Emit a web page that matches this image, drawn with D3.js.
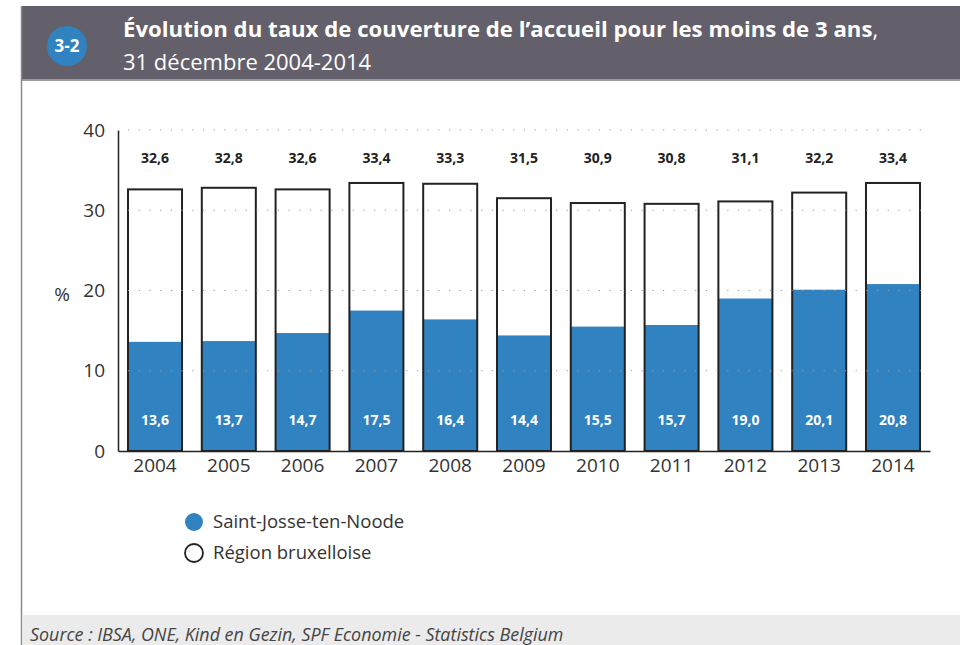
<!DOCTYPE html>
<html>
<head>
<meta charset="utf-8">
<script src="https://cdn.jsdelivr.net/npm/d3@7"></script>
<style>
  body { margin: 0; background: #fff; }
  text { font-family: "Open Sans", "Noto Sans", sans-serif; }
</style>
</head>
<body>
<div id="chart"></div>
<script>
var years = ["2004", "2005", "2006", "2007", "2008", "2009", "2010", "2011", "2012", "2013", "2014"];
var region = [32.6, 32.8, 32.6, 33.4, 33.3, 31.5, 30.9, 30.8, 31.1, 32.2, 33.4];
var saintJosse = [13.6, 13.7, 14.7, 17.5, 16.4, 14.4, 15.5, 15.7, 19.0, 20.1, 20.8];
var yTicks = [0, 10, 20, 30, 40];

var width = 960;
var height = 645;
var blue = "#3182c0";
var fmt = function (v) { return d3.format(".1f")(v).replace(".", ","); };

var svg = d3.select("#chart").append("svg")
  .attr("width", width)
  .attr("height", height);

// header band
svg.append("rect").attr("x", 22).attr("y", 6).attr("width", width - 22).attr("height", 75).attr("fill", "#63606b");
svg.append("rect").attr("x", 22).attr("y", 79).attr("width", width - 22).attr("height", 2).attr("fill", "#9a98a0");
svg.append("line").attr("x1", 21.5).attr("x2", 21.5).attr("y1", 6).attr("y2", height)
  .attr("stroke", "#8a8a90").attr("stroke-width", 1.5);

svg.append("circle").attr("cx", 67).attr("cy", 46).attr("r", 20).attr("fill", blue);
svg.append("text").attr("x", 67).attr("y", 52).attr("text-anchor", "middle")
  .attr("fill", "#fff").attr("font-weight", "bold").attr("font-size", 17).text("3-2");

var title = svg.append("text").attr("x", 123).attr("y", 37).attr("fill", "#fff").attr("font-size", 22.2);
title.append("tspan").attr("font-weight", "bold").text("Évolution du taux de couverture de l’accueil pour les moins de 3 ans");
title.append("tspan").text(",");
svg.append("text").attr("x", 123).attr("y", 70).attr("fill", "#fff").attr("font-size", 22)
  .text("31 décembre 2004-2014");

// footer band
svg.append("rect").attr("x", 22).attr("y", 615).attr("width", width - 22).attr("height", 30).attr("fill", "#ebebeb");
svg.append("text").attr("x", 30).attr("y", 641).attr("fill", "#444").attr("font-style", "italic")
  .attr("font-size", 17.9).text("Source : IBSA, ONE, Kind en Gezin, SPF Economie - Statistics Belgium");

// scales
var x = d3.scaleBand().domain(years).range([118, 930]).paddingInner(0.268).paddingOuter(0.1355);
var y = d3.scaleLinear().domain([0, 40]).range([451, 130]);

// bars
var g = svg.append("g");
g.selectAll(".tot").data(years).enter().append("rect")
  .attr("x", function (d) { return x(d); })
  .attr("width", x.bandwidth())
  .attr("y", function (d, i) { return y(region[i]); })
  .attr("height", function (d, i) { return y(0) - y(region[i]); })
  .attr("fill", "#fff");
g.selectAll(".sj").data(years).enter().append("rect")
  .attr("x", function (d) { return x(d); })
  .attr("width", x.bandwidth())
  .attr("y", function (d, i) { return y(saintJosse[i]); })
  .attr("height", function (d, i) { return y(0) - y(saintJosse[i]); })
  .attr("fill", blue);
g.selectAll(".outline").data(years).enter().append("rect")
  .attr("x", function (d) { return x(d); })
  .attr("width", x.bandwidth())
  .attr("y", function (d, i) { return y(region[i]); })
  .attr("height", function (d, i) { return y(0) - y(region[i]); })
  .attr("fill", "none").attr("stroke", "#222").attr("stroke-width", 2);

// dotted grid
svg.selectAll(".grid").data(yTicks.slice(1)).enter().append("line")
  .attr("x1", 128).attr("x2", 930)
  .attr("y1", function (d) { return y(d); }).attr("y2", function (d) { return y(d); })
  .attr("stroke", "#999").attr("stroke-width", 1.2).attr("stroke-dasharray", "1.2,9.5");

// axes
var yAxis = svg.append("g").attr("transform", "translate(118,0)")
  .call(d3.axisLeft(y).tickValues(yTicks).tickSize(0).tickPadding(13));
yAxis.select(".domain").attr("stroke", "#222").attr("stroke-width", 1.5);
yAxis.selectAll("text").attr("font-size", 19).attr("fill", "#333")
  .style("font-family", "'Open Sans', sans-serif");

var xAxis = svg.append("g").attr("transform", "translate(0," + y(0) + ")")
  .call(d3.axisBottom(x).tickSize(0).tickPadding(8));
xAxis.select(".domain").attr("stroke", "#222").attr("stroke-width", 1.5);
xAxis.selectAll("text").attr("font-size", 19).attr("fill", "#333")
  .style("font-family", "'Open Sans', sans-serif");

svg.append("text").attr("x", 62).attr("y", 301).attr("text-anchor", "middle")
  .attr("font-size", 19).attr("fill", "#333").text("%");

// value labels
svg.selectAll(".lt").data(years).enter().append("text")
  .attr("x", function (d) { return x(d) + x.bandwidth() / 2; })
  .attr("y", 163).attr("text-anchor", "middle")
  .attr("font-size", 14).attr("font-weight", "bold").attr("fill", "#222")
  .text(function (d, i) { return fmt(region[i]); });
svg.selectAll(".lb").data(years).enter().append("text")
  .attr("x", function (d) { return x(d) + x.bandwidth() / 2; })
  .attr("y", 425).attr("text-anchor", "middle")
  .attr("font-size", 14).attr("font-weight", "bold").attr("fill", "#fff")
  .text(function (d, i) { return fmt(saintJosse[i]); });

// legend
var legend = [
  { name: "Saint-Josse-ten-Noode", fill: blue, stroke: "none" },
  { name: "Région bruxelloise", fill: "#fff", stroke: "#222" }
];
var lg = svg.selectAll(".leg").data(legend).enter().append("g")
  .attr("transform", function (d, i) { return "translate(194," + (522 + i * 31) + ")"; });
lg.append("circle").attr("r", 9).attr("fill", function (d) { return d.fill; })
  .attr("stroke", function (d) { return d.stroke; }).attr("stroke-width", 1.8);
lg.append("text").attr("x", 19).attr("y", 6).attr("font-size", 18.5).attr("fill", "#333")
  .text(function (d) { return d.name; });
</script>
</body>
</html>
